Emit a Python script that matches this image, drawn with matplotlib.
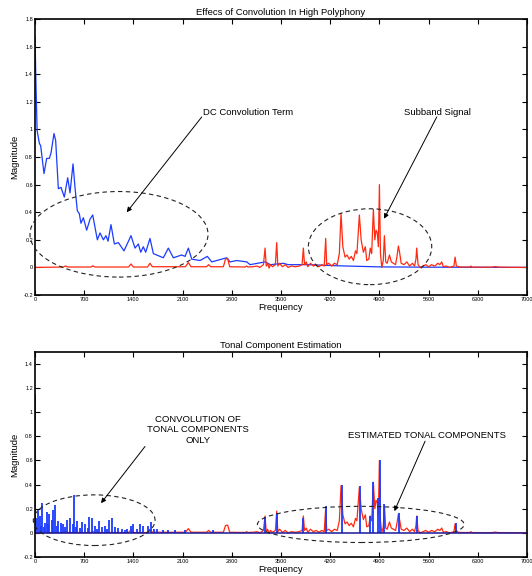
import matplotlib
matplotlib.use("Agg")
import matplotlib.pyplot as plt
from matplotlib.patches import Ellipse

plt.rcParams['font.family'] = ['Liberation Sans', 'DejaVu Sans']
plt.rcParams['axes.unicode_minus'] = False

# ---- data ----
# subband signal (red), same in both panels
red_freq = [0, 400, 436, 470, 800, 820, 850, 1330, 1366, 1400, 1600, 1636, 1670,
            2140, 2182, 2220, 2440, 2470, 2500, 2680, 2710, 2740, 2770, 2990, 3010,
            3030, 3100, 3160, 3200, 3250, 3273, 3290, 3310, 3330, 3350, 3380, 3420,
            3439, 3455, 3480, 3520, 3560, 3600, 3650, 3700, 3760, 3800, 3818, 3835,
            3860, 3880, 3920, 3960, 4000, 4040, 4080, 4115, 4136, 4150, 4180, 4220,
            4260, 4300, 4330, 4354, 4380, 4411, 4440, 4470, 4500, 4530, 4560, 4580,
            4615, 4640, 4672, 4700, 4720, 4750, 4770, 4790, 4814, 4835, 4852, 4870,
            4885, 4900, 4915, 4934, 4955, 4971, 4990, 5010, 5043, 5070, 5100, 5130,
            5150, 5170, 5190, 5210, 5250, 5290, 5330, 5370, 5400, 5420, 5431, 5450,
            5480, 5520, 5560, 5600, 5640, 5690, 5730, 5760, 5787, 5810, 5850, 5900,
            5960, 5977, 5995, 6050, 6190, 6200, 6220, 6500, 6546, 6600, 7000]
red_mag = [0.0, 0.003, 0.01, 0.003, 0.003, 0.012, 0.003, 0.003, 0.025, 0.003, 0.003, 0.03, 0.005,
           0.005, 0.035, 0.005, 0.005, 0.02, 0.005, 0.005, 0.06, 0.065, 0.005, 0.003, 0.01,
           0.003, 0.005, 0.01, 0.0, 0.02, 0.14, 0.01, 0.03, -0.005, 0.02, 0.005, 0.02,
           0.18, 0.01, 0.03, 0.005, 0.02, 0.0, 0.01, 0.005, 0.01, 0.02, 0.14, 0.02,
           0.04, 0.005, 0.03, 0.01, 0.02, 0.005, 0.02, 0.01, 0.21, 0.02, 0.03, 0.01,
           0.03, 0.02, 0.1, 0.39, 0.15, 0.075, 0.09, 0.06, 0.08, 0.05, 0.12, 0.1,
           0.38, 0.2, 0.11, 0.15, 0.05, 0.06, 0.14, 0.1, 0.42, 0.2, 0.27, 0.25,
           0.15, 0.6, 0.1, 0.0, 0.05, 0.23, 0.04, 0.03, 0.09, 0.04, 0.03, 0.02,
           0.08, 0.155, 0.1, 0.03, 0.02, 0.04, 0.01, 0.03, 0.01, 0.06, 0.14, 0.02,
           0.0, 0.01, 0.02, 0.005, 0.02, 0.01, 0.03, 0.02, 0.04, 0.005, 0.01, 0.0,
           0.01, 0.075, 0.01, 0.003, 0.003, 0.01, 0.002, 0.002, 0.006, 0.002, 0.0]

# DC convolution term (blue, top panel)
dc_freq = [0, 15, 30, 62, 81, 128, 166, 204, 228, 270, 294, 332, 370, 417, 465, 498,
           541, 569, 602, 630, 654, 688, 735, 783, 821, 887, 925, 973, 1010, 1039,
           1081, 1129, 1186, 1266, 1366, 1423, 1470, 1504, 1541, 1575, 1636, 1684,
           1826, 1897, 1968, 2087, 2135, 2182, 2230, 2348, 2452, 2514, 2727, 2775,
           2870, 3012, 3060, 3273, 3350, 3534, 3600, 3900, 4300, 4900, 5500, 7000]
dc_mag = [1.67, 1.3, 0.99, 0.90, 0.88, 0.68, 0.79, 0.79, 0.83, 0.97, 0.92, 0.57, 0.58, 0.51, 0.65, 0.54,
          0.75, 0.58, 0.41, 0.39, 0.32, 0.36, 0.27, 0.35, 0.38, 0.20, 0.25, 0.20, 0.23, 0.19,
          0.31, 0.17, 0.18, 0.12, 0.23, 0.14, 0.17, 0.11, 0.15, 0.11, 0.21, 0.10,
          0.07, 0.14, 0.07, 0.09, 0.08, 0.14, 0.06, 0.05, 0.08, 0.04, 0.07, 0.04,
          0.05, 0.04, 0.02, 0.04, 0.02, 0.03, 0.02, 0.02, 0.012, 0.004, 0.002, 0.0]

# estimated tonal components (blue stems, bottom panel)
tonal_freq = [0, 20, 47, 71, 90, 104, 125, 142, 166, 185, 204, 237, 261, 289, 310, 332, 370,
              403, 430, 450, 498, 536, 550, 580, 602, 640, 664, 711, 750, 773, 806, 854,
              880, 915, 949, 996, 1030, 1058, 1091, 1138, 1186, 1233, 1280, 1314, 1366,
              1390, 1447, 1494, 1541, 1612, 1646, 1693, 1740, 1826, 1897, 1992, 2135,
              2538, 3273, 3439, 3818, 4136, 4364, 4620, 4767, 4814, 4876, 4909, 4971,
              5175, 5431, 5986]
tonal_mag = [1.15, 0.12, 0.19, 0.14, 0.06, 0.25, 0.05, 0.08, 0.17, 0.07, 0.16, 0.11, 0.19, 0.235, 0.06, 0.095, 0.08,
             0.07, 0.05, 0.11, 0.12, 0.07, 0.31, 0.05, 0.10, 0.04, 0.09, 0.07, 0.04, 0.13, 0.12, 0.055,
             0.03, 0.10, 0.05, 0.055, 0.03, 0.105, 0.125, 0.05, 0.04, 0.035, 0.02, 0.035, 0.06,
             0.07, 0.035, 0.07, 0.055, 0.06, 0.09, 0.03, 0.03, 0.025, 0.025, 0.025, 0.02,
             0.02, 0.13, 0.165, 0.12, 0.22, 0.395, 0.39, 0.14, 0.42, 0.29, 0.605, 0.24,
             0.165, 0.14, 0.08]

x_ticks = [0, 700, 1400, 2100, 2800, 3500, 4200, 4900, 5600, 6300, 7000]
top_yticks = [-0.2, 0, 0.2, 0.4, 0.6, 0.8, 1, 1.2, 1.4, 1.6, 1.8]
bot_yticks = [-0.2, 0, 0.2, 0.4, 0.6, 0.8, 1, 1.2, 1.4]

BLUE = '#1a3cff'
RED = '#ff2a10'


def _style(ax, yticks, ylim, title):
    ax.set_xlim(0, 7000)
    ax.set_ylim(*ylim)
    ax.set_xticks(x_ticks)
    ax.set_xticklabels([str(t) for t in x_ticks])
    ax.set_yticks(yticks)
    ax.set_yticklabels([f"{t:g}" for t in yticks])
    ax.tick_params(direction='in', top=True, right=True, length=3.5, width=0.8,
                   labelsize=4.0, pad=1.5)
    for s in ax.spines.values():
        s.set_linewidth(1.2)
    ax.set_title(title, fontsize=6.8, pad=3)
    ax.set_xlabel('Frequency', fontsize=6.8, labelpad=0.5)
    ax.set_ylabel('Magnitude', fontsize=6.8, labelpad=3)


def _ellipse(ax, cx, cy, w, h):
    e = Ellipse((cx, cy), w, h, fill=False, edgecolor='#222222', lw=0.8,
                linestyle=(0, (4, 3)), clip_on=False, zorder=5)
    ax.add_patch(e)


def _arrow(ax, start, end):
    ax.annotate('', xy=end, xytext=start,
                arrowprops=dict(arrowstyle='-|>', color='black', lw=0.7,
                                mutation_scale=7, shrinkA=0, shrinkB=0), zorder=6)


fig = plt.figure(figsize=(5.32, 5.76), dpi=100)
ax1 = fig.add_axes([0.0658, 0.4878, 0.9248, 0.4792])
ax2 = fig.add_axes([0.0658, 0.033, 0.9248, 0.356])

# top panel
ax1.plot(dc_freq, dc_mag, color=BLUE, lw=0.9)
ax1.plot(red_freq, red_mag, color=RED, lw=0.9)
_style(ax1, top_yticks, (-0.2, 1.8), 'Effecs of Convolution In High Polyphony')
_ellipse(ax1, 1195, 0.24, 2533, 0.62)
_ellipse(ax1, 4767, 0.15, 1755, 0.55)
ax1.text(2386, 1.12, 'DC Convolution Term', fontsize=6.8, ha='left', va='center')
ax1.text(5732, 1.125, 'Subband Signal', fontsize=6.8, ha='center', va='center')
_arrow(ax1, (2372, 1.09), (1305, 0.40))
_arrow(ax1, (5716, 1.09), (4966, 0.353))

# bottom panel
ax2.plot(red_freq, red_mag, color=RED, lw=0.9)
ax2.vlines(tonal_freq, 0, tonal_mag, color=BLUE, lw=1.3)
ax2.axhline(0, color='#1a1a9a', lw=1.1)
_style(ax2, bot_yticks, (-0.2, 1.5), 'Tonal Component Estimation')
_ellipse(ax2, 842, 0.105, 1732, 0.42)
_ellipse(ax2, 4635, 0.07, 2941, 0.30)
ax2.text(2324, 0.855, 'CONVOLUTION OF\nTONAL COMPONENTS\nONLY', fontsize=6.8,
         ha='center', va='center', linespacing=1.2)
ax2.text(5573, 0.81, 'ESTIMATED TONAL COMPONENTS', fontsize=6.8, ha='center', va='center')
_arrow(ax2, (1565, 0.716), (939, 0.246))
_arrow(ax2, (5550, 0.76), (5113, 0.18))

fig.savefig('out.png', dpi=100)
